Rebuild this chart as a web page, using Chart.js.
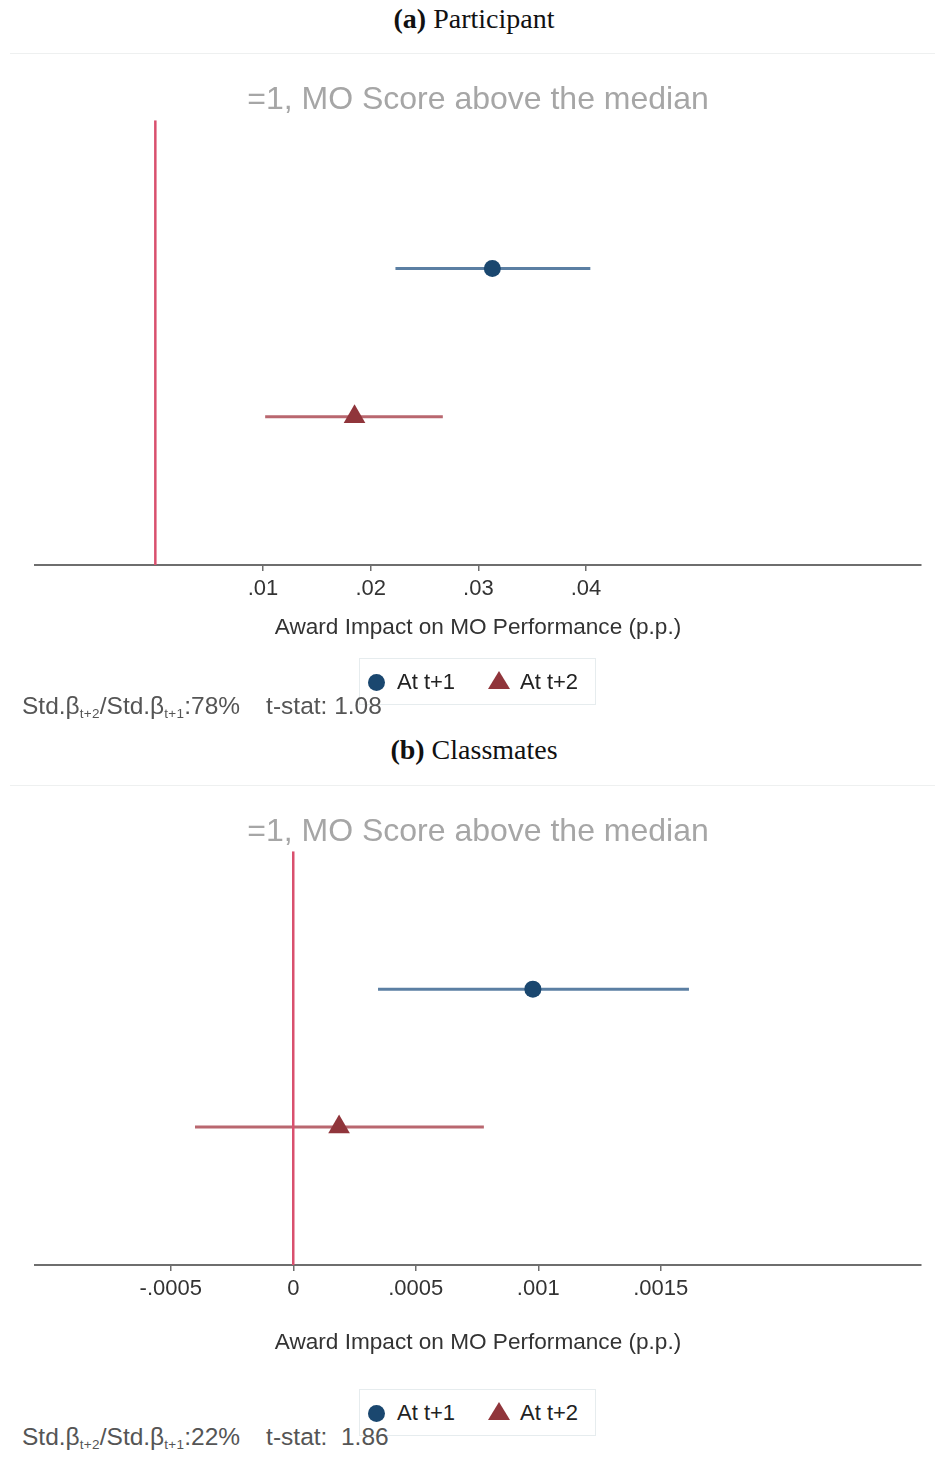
<!DOCTYPE html>
<html>
<head>
<meta charset="utf-8">
<script src="https://cdn.jsdelivr.net/npm/chart.js@4.4.1/dist/chart.umd.min.js"></script>
<style>
  body { margin: 0; background: #fff; }
  #page { position: relative; width: 935px; height: 1461px; overflow: hidden; font-family: "Liberation Sans", Arial, sans-serif; }
  .caption { position: absolute; left: 0; width: 948px; text-align: center; font-family: "Liberation Serif", "Times New Roman", serif; font-size: 28px; color: #111; line-height: 30px; }
  .rule { position: absolute; left: 10px; width: 925px; height: 1px; background: #eef0f0; }
  canvas { position: absolute; left: 0; }
  .legend { position: absolute; left: 359px; width: 235px; height: 45px; border: 1px solid #e6ecee; }
  .legend span { position: absolute; top: 10px; font-size: 22px; line-height: 26px; color: #222; }
  .legend .dot { position: absolute; left: 8px; top: 15px; width: 17px; height: 17px; border-radius: 50%; background: #1a476f; }
  .legend .tri { position: absolute; left: 128px; top: 12px; width: 0; height: 0; border-left: 11px solid transparent; border-right: 11px solid transparent; border-bottom: 18px solid #90353b; }
  .note { position: absolute; left: 22px; font-size: 24.5px; line-height: 28px; color: #555; white-space: pre; }
  .note sub { font-size: 13.5px; vertical-align: -4px; letter-spacing: 0.3px; }
  .note .gap { display: inline-block; width: 26px; }
</style>
</head>
<body>
<div id="page">

  <div class="caption" style="top:4px"><b>(a)</b> Participant</div>
  <div class="rule" style="top:53px"></div>
  <canvas id="chartA" width="935" height="611" style="top:54px"></canvas>
  <div class="legend" style="top:658px">
    <div class="dot"></div><span style="left:37px">At t+1</span>
    <div class="tri"></div><span style="left:160px">At t+2</span>
  </div>
  <div class="note" style="top:692px">Std.β<sub>t+2</sub>/Std.β<sub>t+1</sub>:78%<span class="gap"></span>t-stat: 1.08</div>

  <div class="caption" style="top:735px"><b>(b)</b> Classmates</div>
  <div class="rule" style="top:785px"></div>
  <canvas id="chartB" width="935" height="579" style="top:786px"></canvas>
  <div class="legend" style="top:1389px">
    <div class="dot"></div><span style="left:37px">At t+1</span>
    <div class="tri"></div><span style="left:160px">At t+2</span>
  </div>
  <div class="note" style="top:1423px">Std.β<sub>t+2</sub>/Std.β<sub>t+1</sub>:22%<span class="gap"></span>t-stat:  1.86</div>

</div>

<script>
// rows: t+1 on top, t+2 below
const rowY = [2, 1];
const yTop = 3;
const refX = 0;

// (a) participant: point estimate and CI bounds
const estA = [0.0313, 0.0185];
const loA = [0.0223, 0.0102];
const hiA = [0.0404, 0.0267];
const tickValsA = [0.01, 0.02, 0.03, 0.04];
const tickLabelsA = [".01", ".02", ".03", ".04"];

// (b) classmates
const estB = [0.000978, 0.000187];
const loB = [0.000346, -0.000401];
const hiB = [0.001615, 0.000778];
const tickValsB = [-0.0005, 0, 0.0005, 0.001, 0.0015];
const tickLabelsB = ["-.0005", "0", ".0005", ".001", ".0015"];

const chartTitle = "=1, MO Score above the median";
const axisTitle = "Award Impact on MO Performance (p.p.)";

const blue = "#1a476f";
const blueCI = "#5b7fa3";
const red = "#90353b";
const redCI = "#b9676f";
const refColor = "#d9506e";

function makeChart(id, est, lo, hi, tickVals, tickLabels, xMin, xMax, titlePad, axisTitlePad){

    const ciSets = [blueCI, redCI].map((c, i) => ({
        data: [{x: lo[i], y: rowY[i]}, {x: hi[i], y: rowY[i]}],
        showLine: true,
        borderColor: c,
        borderWidth: 3,
        pointRadius: 0,
        order: 3
    }));

    const refSet = {
        data: [{x: refX, y: 0}, {x: refX, y: yTop}],
        showLine: true,
        borderColor: refColor,
        borderWidth: 2.5,
        pointRadius: 0,
        order: 2
    };

    const pointSets = [
        { data: [{x: est[0], y: rowY[0]}], pointStyle: "circle", pointRadius: 8.5,
          backgroundColor: blue, borderColor: blue, borderWidth: 0, order: 1 },
        { data: [{x: est[1], y: rowY[1]}], pointStyle: "triangle", pointRadius: 12.5,
          backgroundColor: red, borderColor: red, borderWidth: 0, order: 1 }
    ];

    return new Chart(document.getElementById(id), {
        type: "scatter",
        data: { datasets: [...ciSets, refSet, ...pointSets] },
        options: {
            responsive: false,
            animation: false,
            layout: { padding: { left: 35, right: 14, top: 0, bottom: 0 } },
            plugins: {
                legend: { display: false },
                tooltip: { enabled: false },
                title: {
                    display: true,
                    text: chartTitle,
                    color: "#a6a6a6",
                    font: { family: "Liberation Sans", size: 32, weight: "normal" },
                    padding: titlePad
                }
            },
            scales: {
                y: { display: false, min: 0, max: yTop },
                x: {
                    type: "linear",
                    min: xMin,
                    max: xMax,
                    afterBuildTicks: (scale) => {
                        scale.ticks = tickVals.map(v => ({ value: v }));
                    },
                    afterFit: (scale) => { scale.height = 100; },
                    border: { display: true, color: "#6e6e6e", width: 2 },
                    grid: { display: true, drawOnChartArea: false, drawTicks: true, tickLength: 6, color: "#6e6e6e", lineWidth: 1.5 },
                    ticks: {
                        autoSkip: false,
                        maxRotation: 0,
                        padding: 5,
                        color: "#333",
                        font: { family: "Liberation Sans", size: 22 },
                        callback: (value, index) => tickLabels[index]
                    },
                    title: {
                        display: true,
                        text: axisTitle,
                        color: "#333",
                        font: { family: "Liberation Sans", size: 22.6 },
                        padding: { top: 0, bottom: axisTitlePad }
                    }
                }
            }
        }
    });
}

makeChart("chartA", estA, loA, hiA, tickValsA, tickLabelsA, -0.011176, 0.07111,
    { top: 27, bottom: 0.8 }, 23.6);

makeChart("chartB", estB, loB, hiB, tickValsB, tickLabelsB, -0.001054, 0.002562,
    { top: 27, bottom: -0.2 }, 8.6);
</script>
</body>
</html>
